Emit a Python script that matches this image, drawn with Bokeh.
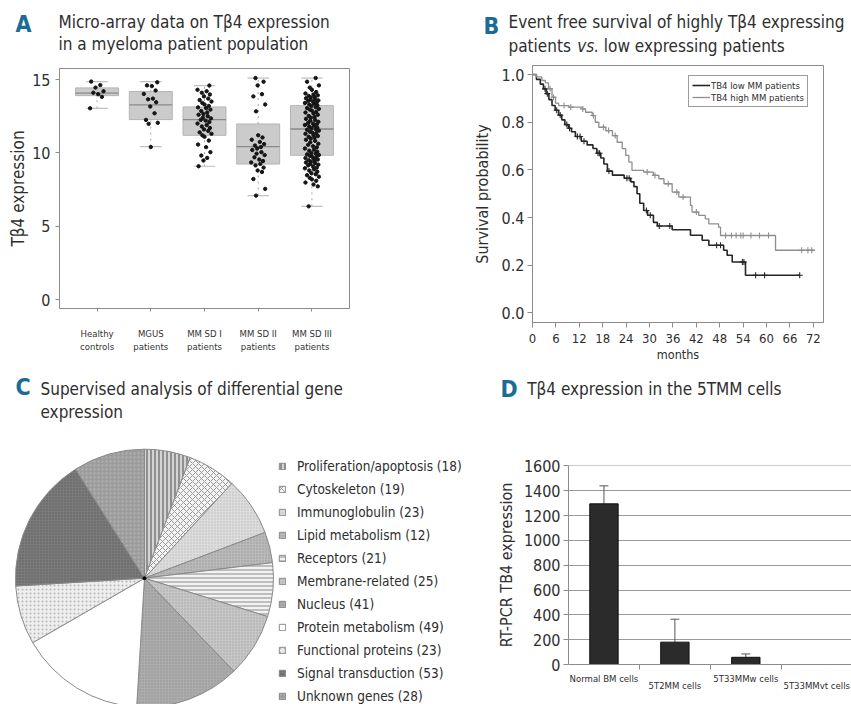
import numpy as np
from bokeh.plotting import figure
from bokeh.models import (Range1d, FixedTicker, Label, Legend, LegendItem,
                          ColumnDataSource, Whisker, TeeHead, LinearAxis)
from bokeh.layouts import row, column
from bokeh.embed import file_html
from bokeh.resources import INLINE

FONT = "'DejaVu Sans Condensed', Roboto, sans-serif"
BLUE = "#1c6b97"
TXT = "#2e2e2e"

# ---------------- Panel A data ----------------
groups_a = ["Healthy\ncontrols", "MGUS\npatients", "MM SD I\npatients",
            "MM SD II\npatients", "MM SD III\npatients"]
q1_a = [13.9, 12.27, 11.2, 9.24, 9.84]
med_a = [14.07, 13.27, 12.27, 10.43, 11.63]
q3_a = [14.43, 14.18, 13.13, 11.97, 13.22]
lo_a = [13.04, 10.43, 9.09, 7.09, 6.36]
hi_a = [14.86, 14.86, 14.59, 15.09, 15.09]
healthy_pts = [14.86, 14.62, 14.45, 14.2, 14.1, 14.0, 13.82, 13.04]
mgus_pts = [14.81, 14.6, 14.55, 14.25, 14.02, 13.7, 13.65, 13.45, 13.16, 12.7,
            12.25, 12.05, 11.98, 10.4]
sd1_pts = [14.59, 14.3, 14.2, 14.1, 13.98, 13.85, 13.7, 13.6, 13.5, 13.4, 13.3,
           13.2, 13.1, 13.05, 12.95, 12.85, 12.75, 12.65, 12.6, 12.5, 12.4, 12.35,
           12.25, 12.2, 12.1, 12.0, 11.9, 11.8, 11.7, 11.6, 11.5, 11.4, 11.3, 11.2,
           11.1, 10.84, 10.57, 10.39, 10.05, 9.82, 9.66, 9.48, 9.09]
sd2_pts = [15.1, 14.85, 14.6, 14.0, 13.85, 13.3, 12.83, 11.2, 11.05, 10.9, 10.75,
           10.6, 10.5, 10.4, 10.3, 10.2, 10.05, 9.95, 9.85, 9.7, 9.55, 9.45, 9.35,
           9.25, 9.15, 9.0, 8.8, 8.7, 8.22, 7.55, 7.09]
sd3_pts = [15.1, 14.85, 14.6, 14.45, 14.3, 14.15, 14.05, 13.98, 13.92, 13.88, 13.82,
           13.78, 13.72, 13.68, 13.62, 13.58, 13.55, 13.5, 13.45, 13.4, 13.36, 13.3,
           13.25, 13.2, 13.12, 13.05, 13.0, 12.95, 12.88, 12.8, 12.75, 12.68, 12.6,
           12.52, 12.45, 12.4, 12.32, 12.25, 12.2, 12.12, 12.05, 12.0, 11.95, 11.9,
           11.85, 11.8, 11.72, 11.68, 11.62, 11.58, 11.52, 11.45, 11.4, 11.35, 11.3,
           11.22, 11.15, 11.1, 11.05, 10.98, 10.9, 10.82, 10.72, 10.62, 10.55, 10.45,
           10.38, 10.3, 10.22, 10.15, 10.08, 10.0, 9.95, 9.9, 9.86, 9.8, 9.75, 9.7,
           9.65, 9.6, 9.55, 9.5, 9.45, 9.4, 9.35, 9.3, 9.25, 9.2, 9.15, 9.08, 9.0,
           8.95, 8.88, 8.8, 8.72, 8.62, 8.55, 8.48, 8.38, 8.3, 8.2, 8.1, 7.98, 7.85,
           7.72, 6.36]
pts_a = [healthy_pts, mgus_pts, sd1_pts, sd2_pts, sd3_pts]
jitter = [-0.11, 0.06, -0.03, 0.12, -0.07, 0.02, 0.09, -0.13, 0.04, -0.05, 0.1,
          -0.01, 0.07, -0.09, 0.13, -0.04, 0.0, 0.08, -0.12, 0.03, 0.11, -0.06,
          0.05, -0.02]
yticks_a = [0, 5, 10, 15]

# ---------------- Panel B data ----------------
t_low = [0, 1, 2, 2.8, 3.5, 4.2, 5, 5.8, 6.7, 7.5, 8.3, 9.2, 10, 11, 12.5, 14, 15.5,
         16.5, 17.5, 18.3, 19.2, 20.5, 23.5, 25.2, 26, 26.8, 27.5, 28.5, 29.5, 31,
         32, 35.8, 40.5, 43.5, 45.2, 49, 49.9, 51.2, 54.6, 68.5]
s_low = [1.0, 0.98, 0.96, 0.94, 0.92, 0.895, 0.87, 0.85, 0.83, 0.81, 0.79, 0.775,
         0.76, 0.74, 0.72, 0.705, 0.69, 0.67, 0.65, 0.625, 0.595, 0.578, 0.565, 0.55,
         0.53, 0.50, 0.46, 0.43, 0.41, 0.38, 0.365, 0.349, 0.326, 0.305, 0.284,
         0.263, 0.242, 0.214, 0.158, 0.158]
t_high = [0, 1, 2.4, 3.3, 4.1, 5, 5.9, 6.7, 9.3, 12.7, 13.6, 15.3, 16.1, 17, 18.8,
          20.5, 21.7, 23, 23.9, 24.7, 25.5, 28.5, 31, 32.4, 33.7, 35.8, 37.5, 40.5,
          40.9, 42.6, 44.3, 45.2, 47.7, 48.2, 62.3, 72.4]
s_high = [1.0, 0.99, 0.975, 0.965, 0.94, 0.905, 0.88, 0.87, 0.863, 0.856, 0.842,
          0.828, 0.80, 0.779, 0.765, 0.744, 0.716, 0.689, 0.661, 0.633, 0.598, 0.591,
          0.577, 0.563, 0.542, 0.507, 0.486, 0.451, 0.423, 0.409, 0.395, 0.374, 0.36,
          0.325, 0.263, 0.263]
cens_low = [3.2, 3.8, 6.2, 7.1, 8.8, 9.5, 11.5, 12.2, 13.2, 16.8, 17.2, 19.6, 24.2,
            24.8, 29.2, 30.2, 32.5, 35.2, 47.2, 48.2, 53.8, 54.2, 57.2, 59.5, 68.5]
cens_high = [4.5, 5.4, 8.1, 9.8, 12.9, 15.6, 18.2, 19.5, 21.2, 29.4, 31.4, 34.8,
             37.0, 38.6, 42.0, 49.5, 51.0, 52.2, 53.4, 54.0, 56.0, 58.2, 60.5, 69.0,
             70.6, 71.6]
xticks_b = list(range(0, 73, 6))
yticks_b = [0.0, 0.2, 0.4, 0.6, 0.8, 1.0]

# ---------------- Panel C data ----------------
cats_c = ["Proliferation/apoptosis (18)", "Cytoskeleton (19)", "Immunoglobulin (23)",
          "Lipid metabolism (12)", "Receptors (21)", "Membrane-related (25)",
          "Nucleus (41)", "Protein metabolism (49)", "Functional proteins (23)",
          "Signal transduction (53)", "Unknown genes (28)"]
counts_c = [18, 19, 23, 12, 21, 25, 41, 49, 23, 53, 28]

# ---------------- Panel D data ----------------
cats_d = ["Normal BM cells", "5T2MM cells", "5T33MMw cells", "5T33MMvt cells"]
vals_d = [1295, 180, 58, 0]
err_d = [1440, 365, 85, 0]
yticks_d = list(range(0, 1601, 200))

COMMON = dict(output_backend="svg", toolbar_location=None, frame_align=False)


def style_text_axis(ax, size):
    ax.major_label_text_font = FONT
    ax.major_label_text_font_size = size
    ax.major_label_text_color = TXT
    ax.axis_label_text_font = FONT
    ax.axis_label_text_font_style = "normal"
    ax.axis_label_text_color = TXT
    ax.minor_tick_line_color = None


def strip(width, height):
    s = figure(width=width, height=height, x_range=Range1d(0, width),
               y_range=Range1d(0, height), min_border=0, x_axis_location=None,
               y_axis_location=None, title=None, **COMMON)
    s.grid.visible = False
    s.outline_line_color = None
    return s


def add_label(p, x, y, text, size="17px", color=TXT, bold=False, italic=False):
    style = "bold" if bold else ("italic" if italic else "normal")
    p.add_layout(Label(x=x, y=y, text=text, text_font=FONT, text_font_size=size,
                       text_color=color, text_font_style=style,
                       text_baseline="alphabetic"))


# ================= title strips =================
top = strip(851, 58)
add_label(top, 15, 34.5, "A", size="23px", color=BLUE, bold=True)
add_label(top, 58, 36.7, "Micro-array data on Tβ4 expression")
add_label(top, 58, 14.3, "in a myeloma patient population")
add_label(top, 483, 33, "B", size="23px", color=BLUE, bold=True)
add_label(top, 508, 36.7, "Event free survival of highly Tβ4 expressing")
add_label(top, 508, 12.7, "patients")
add_label(top, 576.7, 12.7, "vs.", italic=True)
add_label(top, 603.3, 12.7, "low expressing patients")

bot = strip(851, 57)
add_label(bot, 15, 40.3, "C", size="23px", color=BLUE, bold=True)
add_label(bot, 40, 38.3, "Supervised analysis of differential gene")
add_label(bot, 40, 15.7, "expression")
add_label(bot, 500, 38.7, "D", size="23px", color=BLUE, bold=True)
add_label(bot, 526.7, 38.3, "Tβ4 expression in the 5TMM cells")

# ================= Panel A =================
pA = figure(width=430, height=312, x_range=Range1d(0.3, 5.7),
            y_range=Range1d(-0.6, 15.75), min_border_left=59, min_border_right=81,
            min_border_top=10, min_border_bottom=62, title=None, **COMMON)
pA.grid.visible = False
pA.outline_line_color = "#8c8c8c"
xs_a = [1, 2, 3, 4, 5]
cap_l = [x - 0.2 for x in xs_a]
cap_r = [x + 0.2 for x in xs_a]
pA.segment(xs_a, q3_a, xs_a, hi_a, line_color="#a8a8a8", line_dash="dotted")
pA.segment(xs_a, lo_a, xs_a, q1_a, line_color="#a8a8a8", line_dash="dotted")
pA.segment(cap_l, hi_a, cap_r, hi_a, line_color="#c0c0c0", line_width=1.2)
pA.segment(cap_l, lo_a, cap_r, lo_a, line_color="#c0c0c0", line_width=1.2)
pA.vbar(x=xs_a, width=0.8, bottom=q1_a, top=q3_a, fill_color="#cbcbcb",
        line_color="#b4b4b4")
pA.segment([x - 0.4 for x in xs_a], med_a, [x + 0.4 for x in xs_a], med_a,
           line_color="#8a8a8a", line_width=1.3)
px, py = [], []
for gi, pts in enumerate(pts_a):
    for i, v in enumerate(pts):
        px.append(xs_a[gi] + jitter[(i + 3 * gi) % len(jitter)])
        py.append(v)
pA.scatter(px, py, size=3.4, color="#151515")
pA.xaxis.ticker = FixedTicker(ticks=xs_a)
pA.xaxis.major_label_overrides = {x: g for x, g in zip(xs_a, groups_a)}
pA.yaxis.ticker = FixedTicker(ticks=yticks_a)
for ax in (pA.xaxis[0], pA.yaxis[0]):
    style_text_axis(ax, "16px")
    ax.axis_line_color = None
    ax.major_tick_line_color = "#8c8c8c"
    ax.major_tick_out = 4
    ax.major_tick_in = 0
pA.xaxis.major_label_text_font_size = "9.5px"
pA.xaxis.major_label_text_color = "#333333"
pA.xaxis.major_label_standoff = 16
pA.xaxis.major_tick_out = 3
pA.yaxis.major_label_standoff = 5
pA.yaxis.axis_label = "Tβ4 expression"
pA.yaxis.axis_label_text_font_size = "17px"
pA.yaxis.axis_label_standoff = 1

# ================= Panel B =================
pB = figure(width=421, height=312, x_range=Range1d(0, 74.6),
            y_range=Range1d(-0.04, 1.038), min_border_left=102, min_border_right=28,
            min_border_top=7, min_border_bottom=48, title=None, **COMMON)
pB.grid.visible = False
pB.outline_line_color = "#8c8c8c"
r_low = pB.step(t_low, s_low, mode="after", line_color="#262626", line_width=1.6)
r_high = pB.step(t_high, s_high, mode="after", line_color="#8e8e8e", line_width=1.3)


def surv_at(ts, ss, t):
    idx = np.searchsorted(np.array(ts), t, side="right") - 1
    return float(ss[idx])


pB.scatter(cens_low, [surv_at(t_low, s_low, t) for t in cens_low], marker="cross",
           size=6, line_color="#262626", line_width=1.1)
pB.scatter(cens_high, [surv_at(t_high, s_high, t) for t in cens_high],
           marker="cross", size=6, line_color="#8e8e8e", line_width=1.1)
pB.xaxis.ticker = FixedTicker(ticks=xticks_b)
pB.yaxis.ticker = FixedTicker(ticks=yticks_b)
pB.yaxis.major_label_overrides = {v: f"{v:.1f}" for v in yticks_b}
for ax in (pB.xaxis[0], pB.yaxis[0]):
    style_text_axis(ax, "16px")
    ax.axis_line_color = "#8c8c8c"
    ax.major_tick_line_color = "#8c8c8c"
    ax.major_tick_out = 5
    ax.major_tick_in = 0
pB.xaxis.major_label_text_font_size = "13px"
pB.xaxis.major_label_standoff = 6
pB.xaxis.axis_label = "months"
pB.xaxis.axis_label_text_font_size = "12.5px"
pB.xaxis.axis_label_standoff = 1
pB.yaxis.major_label_standoff = 3
pB.yaxis.axis_label = "Survival probability"
pB.yaxis.axis_label_text_font_size = "16px"
pB.yaxis.axis_label_standoff = 7
legB = Legend(items=[LegendItem(label="TB4 low MM patients", renderers=[r_low]),
                     LegendItem(label="TB4 high MM patients", renderers=[r_high])],
              location=(156, 215), label_text_font=FONT, label_text_font_size="9.5px",
              label_text_color=TXT, glyph_width=18, glyph_height=12, label_height=12,
              label_standoff=1, spacing=0, padding=3, margin=0,
              border_line_color="#3a3a3a", border_line_width=1.6)
pB.add_layout(legB)

# ================= Panel C =================
pC = figure(width=480, height=277, x_range=Range1d(-1.116, 2.605),
            y_range=Range1d(-0.979, 1.168), min_border=0, x_axis_location=None,
            y_axis_location=None, title=None, **COMMON)
pC.grid.visible = False
pC.outline_line_color = None
cnt = np.array(counts_c, dtype=float)
ang_end = np.cumsum(cnt) / cnt.sum() * 2 * np.pi
ang_start = ang_end - cnt / cnt.sum() * 2 * np.pi
fills = ["#d4d4d4", "#f4f4f4", "#dcdcdc", "#b9b9b9", "#f2f2f2", "#c6c6c6",
         "#acacac", "#ffffff", "#eeeeee", "#7a7a7a", "#9c9c9c"]
hatches = ["vertical_line", "diagonal_cross", "dot", "dot", "horizontal_line", "dot",
           "dot", " ", "dot", "dot", "dot"]
hcolors = ["#4a4a4a", "#9a9a9a", "#bdbdbd", "#9a9a9a", "#8a8a8a", "#a6a6a6",
           "#949494", "#ffffff", "#b8b8b8", "#5e5e5e", "#b6b6b6"]
hscales = [4, 6, 3, 3, 4, 3, 3, 3, 4, 3, 4]
srcC = ColumnDataSource(dict(start=np.pi / 2 - ang_end, end=np.pi / 2 - ang_start,
                             fill=fills, hatch=hatches, hcolor=hcolors, hscale=hscales))
rC = pC.wedge(x=0, y=0, radius=1.0, start_angle="start", end_angle="end",
              fill_color="fill", hatch_pattern="hatch", hatch_color="hcolor",
              hatch_scale="hscale", hatch_weight=1, line_color="#8a8a8a",
              line_width=1, source=srcC)
pC.scatter([0], [0], size=3, color="black")
legC = Legend(items=[LegendItem(label=c, renderers=[rC], index=i)
                     for i, c in enumerate(cats_c)],
              location=(278, 0), label_text_font=FONT, label_text_font_size="13.5px",
              label_text_color=TXT, glyph_width=8, glyph_height=8, label_height=16,
              label_standoff=11, spacing=7, padding=0, margin=0,
              border_line_color=None, background_fill_alpha=0)
pC.add_layout(legC)

# ================= Panel D =================
pD = figure(width=371, height=277, x_range=Range1d(0, 3.99),
            y_range=Range1d(0, 1604), min_border_left=88, min_border_right=0,
            min_border_top=38, min_border_bottom=40, title=None, **COMMON)
pD.xgrid.visible = False
pD.ygrid.ticker = FixedTicker(ticks=yticks_d)
pD.ygrid.grid_line_color = "#9a9a9a"
pD.outline_line_color = None
xs_d = [0.5, 1.5, 2.5, 3.5]
pD.vbar(x=xs_d, width=0.4, top=vals_d, bottom=0, fill_color="#2b2b2b",
        line_color="#111111")
srcD = ColumnDataSource(dict(x=xs_d[:3], lower=vals_d[:3], upper=err_d[:3]))
pD.add_layout(Whisker(base="x", upper="upper", lower="lower", source=srcD,
                      line_color="#555555", line_width=1,
                      upper_head=TeeHead(size=9, line_color="#555555"),
                      lower_head=None))
# first row of staggered category labels (with boundary ticks)
pD.xaxis.ticker = FixedTicker(ticks=xs_d[0::2], minor_ticks=[1, 2, 3])
pD.xaxis.major_label_overrides = {xs_d[0]: cats_d[0], xs_d[2]: cats_d[2]}
# second, lower row of staggered category labels
ax2 = LinearAxis(ticker=FixedTicker(ticks=xs_d[1::2]),
                 major_label_overrides={xs_d[1]: cats_d[1], xs_d[3]: cats_d[3]})
pD.add_layout(ax2, "below")
pD.yaxis.ticker = FixedTicker(ticks=yticks_d)
for ax in (pD.xaxis[0], pD.yaxis[0], ax2):
    style_text_axis(ax, "16px")
    ax.axis_line_color = "#8c8c8c"
    ax.major_tick_line_color = "#8c8c8c"
    ax.major_tick_out = 5
    ax.major_tick_in = 0
for ax in (pD.xaxis[0], ax2):
    ax.major_tick_out = 0
    ax.major_label_text_font_size = "9.5px"
pD.xaxis[0].minor_tick_line_color = "#8c8c8c"
pD.xaxis[0].minor_tick_out = 5
pD.xaxis[0].minor_tick_in = 0
pD.xaxis[0].major_label_standoff = 3
ax2.axis_line_color = None
ax2.major_tick_line_color = None
ax2.major_label_standoff = -7
pD.yaxis.major_label_standoff = 3
pD.yaxis.axis_label = "RT-PCR TB4 expression"
pD.yaxis.axis_label_text_font_size = "16px"
pD.yaxis.axis_label_standoff = 5

layout = column(top, row(pA, pB), bot, row(pC, pD))
open("out.html", "w").write(file_html(layout, INLINE))
